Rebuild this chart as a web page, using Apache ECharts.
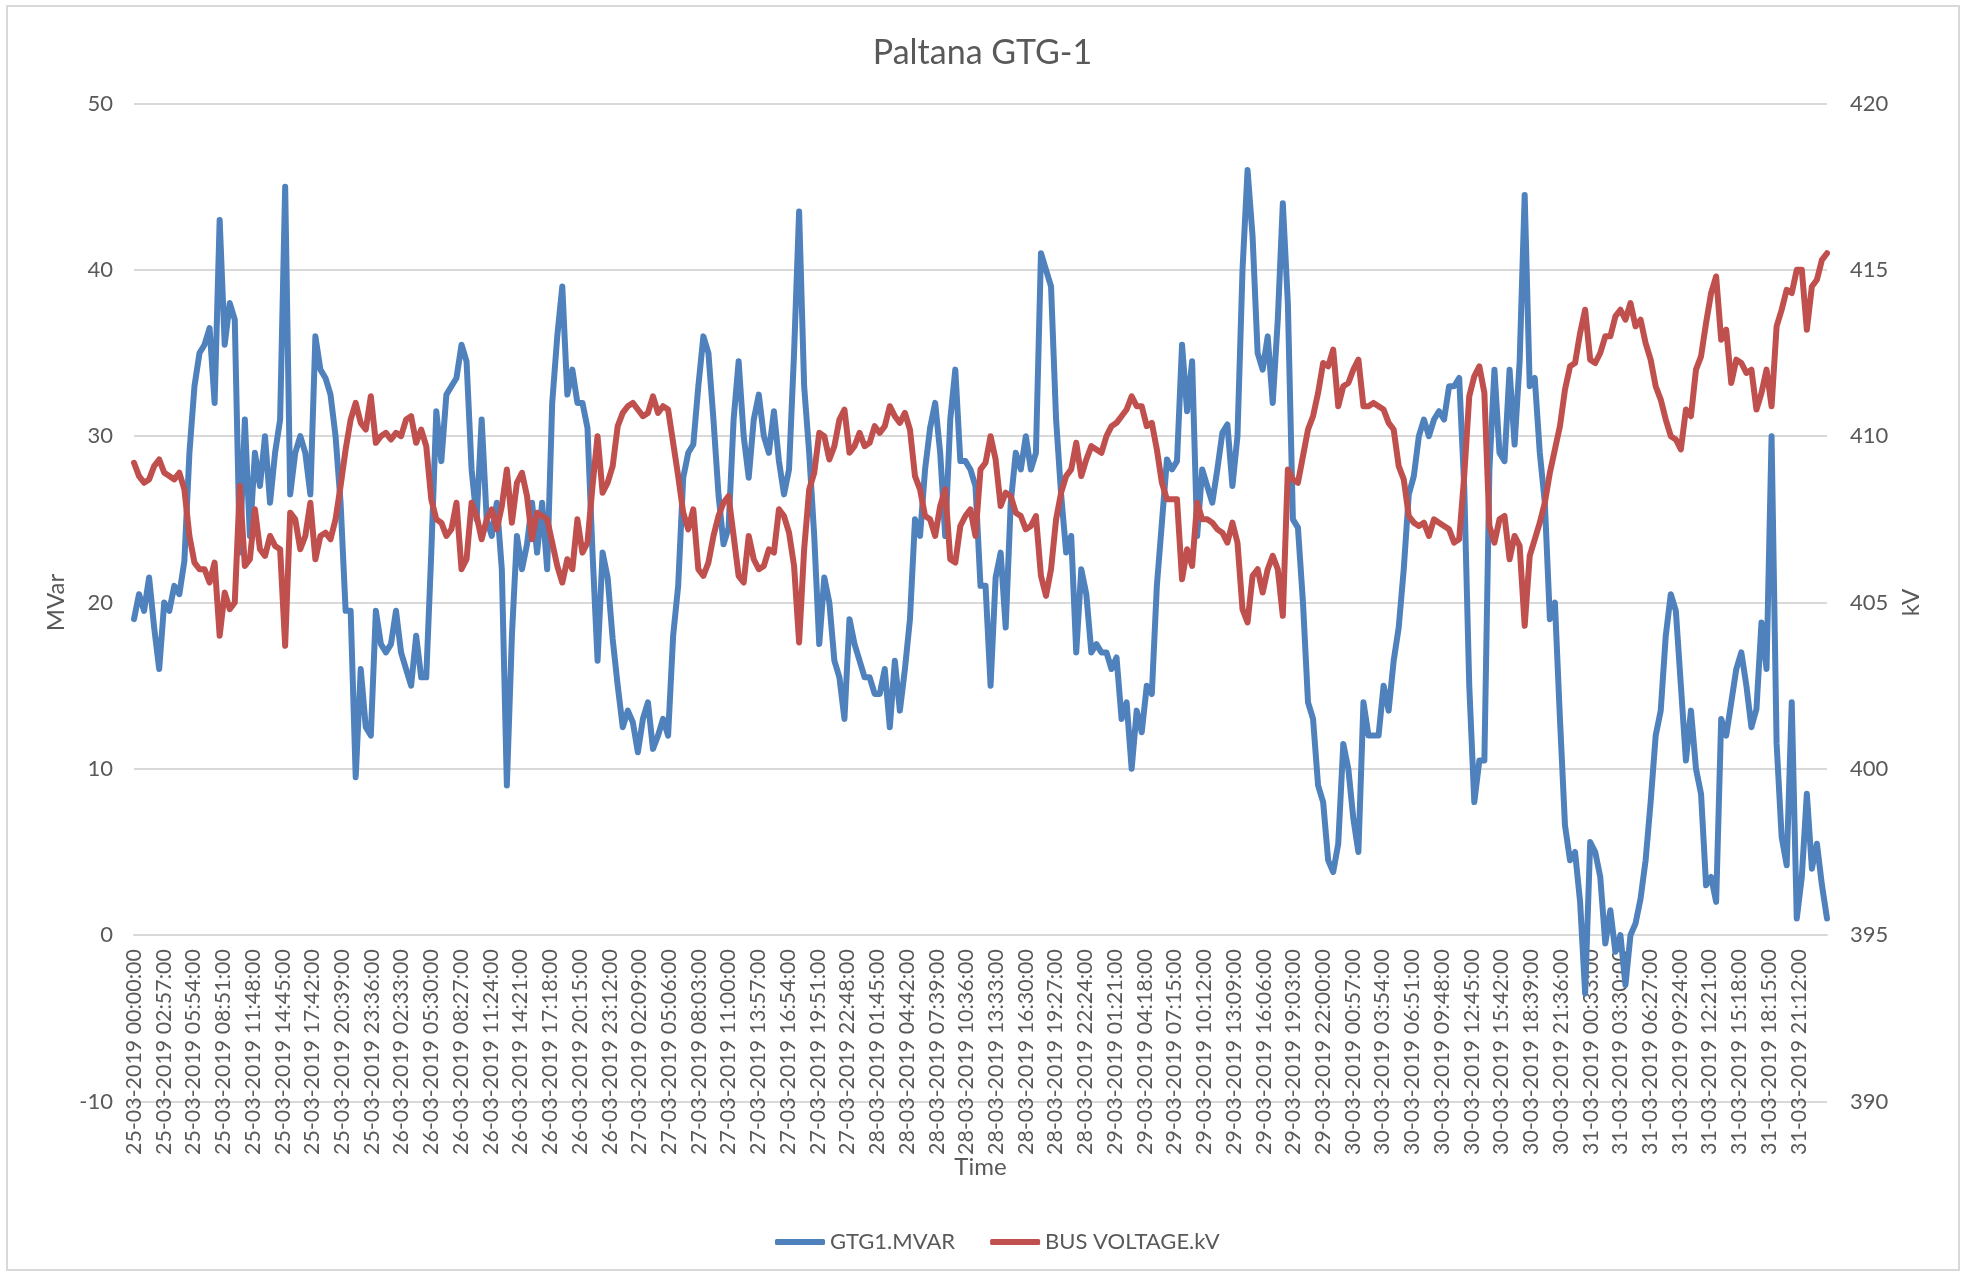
<!DOCTYPE html>
<html>
<head>
<meta charset="utf-8">
<script src="https://cdn.jsdelivr.net/npm/echarts@6/dist/echarts.min.js"></script>
<style>
html,body{margin:0;padding:0;background:#ffffff;}
#chart{width:1965px;height:1274px;}
</style>
</head>
<body>
<div id="chart"></div>
<script>
// ---- data (one sample every 30 minutes, starting 25-03-2019 00:00) ----
const sampleStepMinutes = 30;
const labelStepMinutes = 177;

const xTickLabels = [
  "25-03-2019 00:00:00","25-03-2019 02:57:00","25-03-2019 05:54:00","25-03-2019 08:51:00",
  "25-03-2019 11:48:00","25-03-2019 14:45:00","25-03-2019 17:42:00","25-03-2019 20:39:00",
  "25-03-2019 23:36:00","26-03-2019 02:33:00","26-03-2019 05:30:00","26-03-2019 08:27:00",
  "26-03-2019 11:24:00","26-03-2019 14:21:00","26-03-2019 17:18:00","26-03-2019 20:15:00",
  "26-03-2019 23:12:00","27-03-2019 02:09:00","27-03-2019 05:06:00","27-03-2019 08:03:00",
  "27-03-2019 11:00:00","27-03-2019 13:57:00","27-03-2019 16:54:00","27-03-2019 19:51:00",
  "27-03-2019 22:48:00","28-03-2019 01:45:00","28-03-2019 04:42:00","28-03-2019 07:39:00",
  "28-03-2019 10:36:00","28-03-2019 13:33:00","28-03-2019 16:30:00","28-03-2019 19:27:00",
  "28-03-2019 22:24:00","29-03-2019 01:21:00","29-03-2019 04:18:00","29-03-2019 07:15:00",
  "29-03-2019 10:12:00","29-03-2019 13:09:00","29-03-2019 16:06:00","29-03-2019 19:03:00",
  "29-03-2019 22:00:00","30-03-2019 00:57:00","30-03-2019 03:54:00","30-03-2019 06:51:00",
  "30-03-2019 09:48:00","30-03-2019 12:45:00","30-03-2019 15:42:00","30-03-2019 18:39:00",
  "30-03-2019 21:36:00","31-03-2019 00:33:00","31-03-2019 03:30:00","31-03-2019 06:27:00",
  "31-03-2019 09:24:00","31-03-2019 12:21:00","31-03-2019 15:18:00","31-03-2019 18:15:00",
  "31-03-2019 21:12:00"
];

// GTG1.MVAR (left axis), 12 samples per row = 6 hours
const mvarValues = [
  19, 20.5, 19.5, 21.5, 18.5, 16, 20, 19.5, 21, 20.5, 22.5, 29,
  33, 35, 35.5, 36.5, 32, 43, 35.5, 38, 37, 23, 31, 24,
  29, 27, 30, 26, 29, 31, 45, 26.5, 29, 30, 29, 26.5,
  36, 34, 33.5, 32.5, 30, 26, 19.5, 19.5, 9.5, 16, 12.5, 12,
  19.5, 17.5, 17, 17.5, 19.5, 17, 16, 15, 18, 15.5, 15.5, 23,
  31.5, 28.5, 32.5, 33, 33.5, 35.5, 34.5, 28, 25, 31, 25, 24,
  26, 22, 9, 18, 24, 22, 23.5, 26, 23, 26, 22, 32,
  36, 39, 32.5, 34, 32, 32, 30.5, 23, 16.5, 23, 21.5, 17.8,
  15, 12.5, 13.5, 12.8, 11, 13, 14, 11.2, 12, 13, 12, 18,
  21, 27.5, 29, 29.5, 33, 36, 35, 31, 26.5, 23.5, 24.5, 31,
  34.5, 30, 27.5, 31, 32.5, 30, 29, 31.5, 28.5, 26.5, 28, 35,
  43.5, 33, 29, 24, 17.5, 21.5, 20, 16.5, 15.5, 13, 19, 17.5,
  16.5, 15.5, 15.5, 14.5, 14.5, 16, 12.5, 16.5, 13.5, 16, 19, 25,
  24, 28, 30.5, 32, 29, 24, 31, 34, 28.5, 28.5, 28, 27,
  21, 21, 15, 21.5, 23, 18.5, 26, 29, 28, 30, 28, 29,
  41, 40, 39, 31, 26.5, 23, 24, 17, 22, 20.5, 17, 17.5,
  17, 17, 16, 16.7, 13, 14, 10, 13.5, 12.2, 15, 14.5, 21,
  24.8, 28.6, 28, 28.5, 35.5, 31.5, 34.5, 24, 28, 27, 26, 28,
  30.2, 30.7, 27, 30, 40, 46, 42, 35, 34, 36, 32, 37,
  44, 38, 25, 24.5, 20, 14, 13, 9, 8, 4.5, 3.8, 5.5,
  11.5, 10, 7, 5, 14, 12, 12, 12, 15, 13.5, 16.5, 18.5,
  22, 26.5, 27.6, 30, 31, 30, 31, 31.5, 31, 33, 33, 33.5,
  27, 15, 8, 10.5, 10.5, 28, 34, 29, 28.5, 34, 29.5, 34.5,
  44.5, 33, 33.5, 29, 26, 19, 20, 13, 6.6, 4.5, 5, 2,
  -3.5, 5.6, 5, 3.5, -0.5, 1.5, -1, 0, -3, 0, 0.7, 2.2,
  4.5, 8, 12, 13.5, 18, 20.5, 19.5, 15, 10.5, 13.5, 10, 8.5,
  3, 3.5, 2, 13, 12, 14, 16, 17, 15, 12.5, 13.6, 18.8,
  16, 30, 11.5, 5.9, 4.2, 14, 1, 3.5, 8.5, 4, 5.5, 3,
  1
];

// BUS VOLTAGE.kV (right axis), 12 samples per row = 6 hours
const busKvValues = [
  409.2, 408.8, 408.6, 408.7, 409.1, 409.3, 408.9, 408.8, 408.7, 408.9, 408.4, 407.0,
  406.2, 406.0, 406.0, 405.6, 406.2, 404.0, 405.3, 404.8, 405.0, 408.5, 406.1, 406.3,
  407.8, 406.6, 406.4, 407.0, 406.7, 406.6, 403.7, 407.7, 407.5, 406.6, 407.0, 408.0,
  406.3, 407.0, 407.1, 406.9, 407.5, 408.5, 409.6, 410.5, 411.0, 410.4, 410.2, 411.2,
  409.8, 410.0, 410.1, 409.9, 410.1, 410.0, 410.5, 410.6, 409.8, 410.2, 409.7, 408.1,
  407.5, 407.4, 407.0, 407.2, 408.0, 406.0, 406.3, 408.0, 407.6, 406.9, 407.5, 407.8,
  407.2, 407.9, 409.0, 407.4, 408.6, 408.9, 408.2, 406.9, 407.7, 407.6, 407.5, 406.8,
  406.1, 405.6, 406.3, 406.0, 407.5, 406.5, 406.8, 408.5, 410.0, 408.3, 408.6, 409.1,
  410.3, 410.7, 410.9, 411.0, 410.8, 410.6, 410.7, 411.2, 410.7, 410.9, 410.8, 409.8,
  408.8, 407.7, 407.2, 407.8, 406.0, 405.8, 406.2, 407.0, 407.6, 408.0, 408.2, 407.0,
  405.8, 405.6, 407.0, 406.3, 406.0, 406.1, 406.6, 406.5, 407.8, 407.6, 407.1, 406.1,
  403.8, 406.6, 408.4, 408.9, 410.1, 410.0, 409.3, 409.7, 410.5, 410.8, 409.5, 409.7,
  410.1, 409.7, 409.8, 410.3, 410.1, 410.3, 410.9, 410.6, 410.4, 410.7, 410.2, 408.8,
  408.4, 407.6, 407.5, 407.0, 407.9, 408.4, 406.3, 406.2, 407.3, 407.6, 407.8, 407.0,
  409.0, 409.2, 410.0, 409.3, 407.9, 408.3, 408.2, 407.7, 407.6, 407.2, 407.3, 407.6,
  405.8, 405.2, 406.0, 407.5, 408.3, 408.8, 409.0, 409.8, 408.8, 409.3, 409.7, 409.6,
  409.5, 410.0, 410.3, 410.4, 410.6, 410.8, 411.2, 410.9, 410.9, 410.3, 410.4, 409.6,
  408.6, 408.1, 408.1, 408.1, 405.7, 406.6, 406.1, 408.0, 407.5, 407.5, 407.4, 407.2,
  407.1, 406.8, 407.4, 406.8, 404.8, 404.4, 405.8, 406.0, 405.3, 406.0, 406.4, 406.0,
  404.6, 409.0, 408.7, 408.6, 409.4, 410.2, 410.6, 411.3, 412.2, 412.1, 412.6, 410.9,
  411.5, 411.6, 412.0, 412.3, 410.9, 410.9, 411.0, 410.9, 410.8, 410.4, 410.2, 409.1,
  408.7, 407.6, 407.4, 407.3, 407.4, 407.0, 407.5, 407.4, 407.3, 407.2, 406.8, 406.9,
  408.8, 411.2, 411.8, 412.1, 411.3, 407.3, 406.8, 407.5, 407.6, 406.3, 407.0, 406.7,
  404.3, 406.4, 406.9, 407.4, 408.0, 408.9, 409.6, 410.3, 411.4, 412.1, 412.2, 413.1,
  413.8, 412.3, 412.2, 412.5, 413.0, 413.0, 413.6, 413.8, 413.5, 414.0, 413.3, 413.5,
  412.8, 412.3, 411.5, 411.1, 410.5, 410.0, 409.9, 409.6, 410.8, 410.6, 412.0, 412.4,
  413.4, 414.3, 414.8, 412.9, 413.2, 411.6, 412.3, 412.2, 411.9, 412.0, 410.8, 411.3,
  412.0, 410.9, 413.3, 413.8, 414.4, 414.3, 415.0, 415.0, 413.2, 414.5, 414.7, 415.3,
  415.5
];

const seriesNames = ["GTG1.MVAR", "BUS VOLTAGE.kV"];
const totalMinutes = 10080;
const mvarRange = {min: -10, max: 50, interval: 10};
const kvRange = {min: 390, max: 420, interval: 5};

// ---- chart ----
const FONT = "Lato";
const TXT = "#595959";
const GRIDC = "#D9D9D9";

const GRID = {left: 134, right: 138, top: 103.5, bottom: 172.5};
const plotHeight = 1274 - GRID.top - GRID.bottom;
// the category axis of the original crosses the value axis at 0: lift it from the bottom edge
const zeroLift = plotHeight * (0 - mvarRange.min) / (mvarRange.max - mvarRange.min);

const toPairs = arr => arr.map((v, i) => [i * sampleStepMinutes, v]);

const chart = echarts.init(document.getElementById("chart"), null, {renderer: "canvas"});
chart.setOption({
  animation: false,
  backgroundColor: "#ffffff",
  textStyle: {fontFamily: FONT, color: TXT},
  title: {
    text: "Paltana GTG-1",
    left: "center",
    top: 31,
    textStyle: {fontFamily: FONT, fontSize: 34, fontWeight: "normal", color: TXT}
  },
  graphic: [{
    type: "rect",
    shape: {x: 7, y: 6, width: 1952, height: 1264},
    style: {fill: null, stroke: GRIDC, lineWidth: 2},
    silent: true, z: -1
  }],
  legend: {
    left: 770,
    top: 1226,
    itemGap: 35,
    itemWidth: 50,
    itemHeight: 6,
    icon: "roundRect",
    textStyle: {fontFamily: FONT, fontSize: 22, color: TXT},
    data: seriesNames
  },
  grid: Object.assign({containLabel: false, outerBoundsMode: "none"}, GRID),
  xAxis: {
    type: "value",
    min: 0,
    max: totalMinutes,
    interval: labelStepMinutes,
    offset: -zeroLift,
    name: "Time",
    nameLocation: "middle",
    nameGap: 220,
    nameMoveOverlap: false,
    nameTextStyle: {fontFamily: FONT, fontSize: 24, color: TXT},
    axisLine: {show: true, onZero: false, lineStyle: {color: GRIDC, width: 2}},
    axisTick: {show: false},
    splitLine: {show: false},
    axisLabel: {
      rotate: 90,
      margin: 14,
      fontFamily: FONT,
      fontSize: 21.4,
      color: TXT,
      showMaxLabel: false,
      formatter: v => (v % labelStepMinutes === 0 && xTickLabels[v / labelStepMinutes]) ? xTickLabels[v / labelStepMinutes] : ""
    }
  },
  yAxis: [{
    type: "value",
    min: mvarRange.min, max: mvarRange.max, interval: mvarRange.interval,
    position: "left",
    name: "MVar",
    nameLocation: "middle",
    nameRotate: 90,
    nameGap: 64,
    nameTextStyle: {fontFamily: FONT, fontSize: 24, color: TXT},
    axisLine: {show: false},
    axisTick: {show: false},
    splitLine: {show: true, lineStyle: {color: GRIDC, width: 2}},
    axisLabel: {margin: 21, fontFamily: FONT, fontSize: 22, color: TXT}
  }, {
    type: "value",
    min: kvRange.min, max: kvRange.max, interval: kvRange.interval,
    position: "right",
    name: "kV",
    nameLocation: "middle",
    nameRotate: 90,
    nameGap: 70,
    nameTextStyle: {fontFamily: FONT, fontSize: 24, color: TXT},
    axisLine: {show: false},
    axisTick: {show: false},
    splitLine: {show: false},
    axisLabel: {margin: 23, fontFamily: FONT, fontSize: 22, color: TXT}
  }],
  series: [{
    name: seriesNames[0],
    type: "line",
    yAxisIndex: 0,
    showSymbol: false,
    symbol: "none",
    color: "#4F81BD",
    lineStyle: {width: 6, color: "#4F81BD", cap: "round", join: "round"},
    data: toPairs(mvarValues)
  }, {
    name: seriesNames[1],
    type: "line",
    yAxisIndex: 1,
    showSymbol: false,
    symbol: "none",
    color: "#C0504D",
    lineStyle: {width: 6, color: "#C0504D", cap: "round", join: "round"},
    data: toPairs(busKvValues)
  }]
});
</script>
</body>
</html>
